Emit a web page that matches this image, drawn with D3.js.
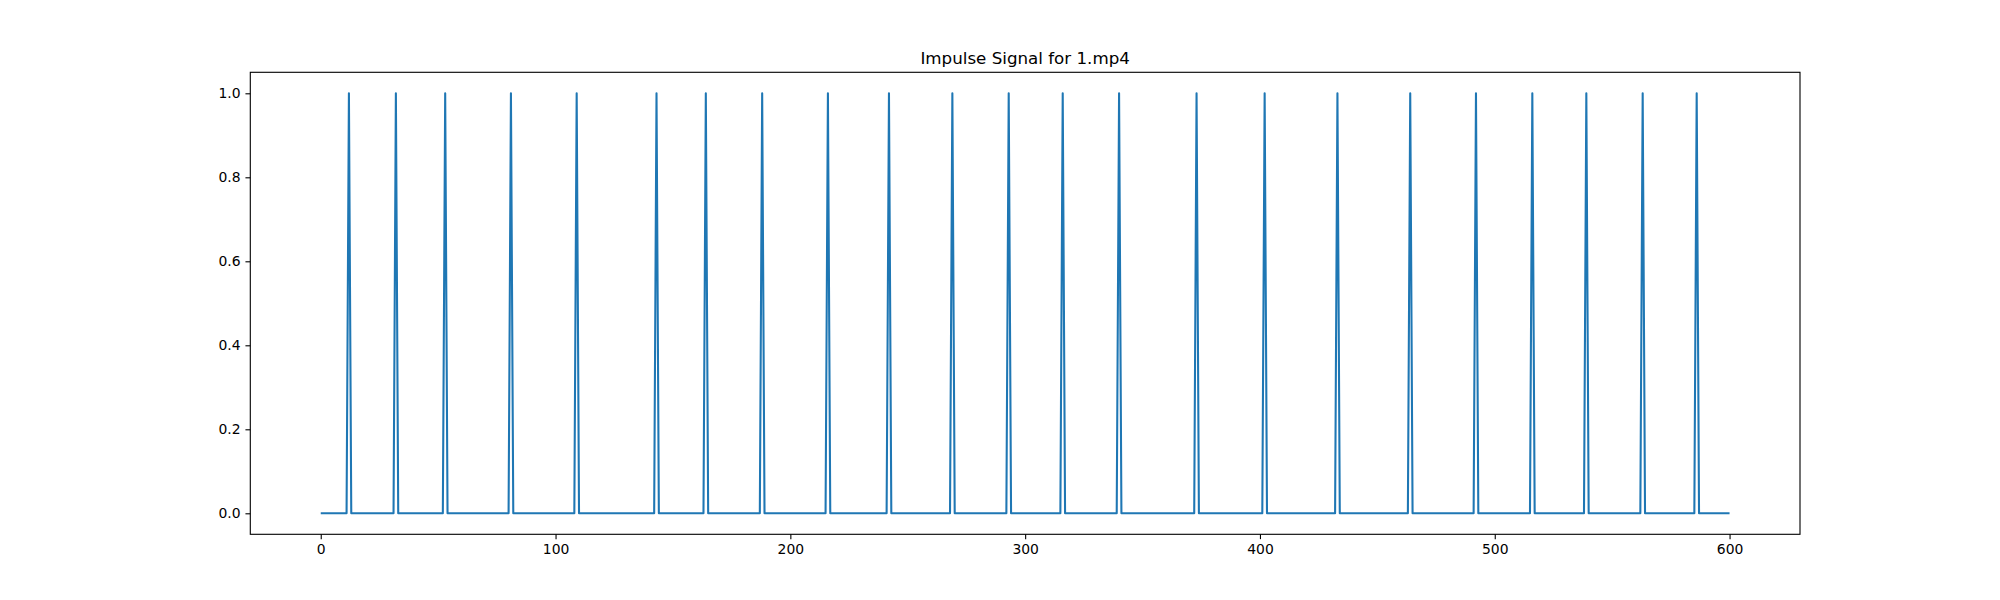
<!DOCTYPE html>
<html>
<head>
<meta charset="utf-8">
<script src="https://cdn.jsdelivr.net/npm/d3@7"></script>
<style>
body { margin: 0; background: #fff; }
svg text { font-family: "DejaVu Sans", sans-serif; }
</style>
</head>
<body>
<script>
"use strict";

// frames where an impulse fires (value 1), all other frames are 0
var peakFrames = [12, 32, 53, 81, 109, 143, 164, 188, 216, 242, 269, 293, 316, 340, 373, 402, 433, 464, 492, 516, 539, 563, 586];
var firstFrame = 0;
var lastFrame = 600;
var xTicks = [0, 100, 200, 300, 400, 500, 600];
var yTicks = [0.0, 0.2, 0.4, 0.6, 0.8, 1.0];
var titleText = "Impulse Signal for 1.mp4";

var W = 2000, H = 600;
var margin = {left: 250.3, right: 200, top: 72.3, bottom: 65.7};

// build series of frame values
var series = [];
for (var f = firstFrame; f <= lastFrame; f++) {
    series.push({frame: f, value: peakFrames.indexOf(f) >= 0 ? 1 : 0});
}

var svg = d3.select("body").append("svg").attr("width", W).attr("height", H);

var pad = (lastFrame - firstFrame) * 0.05;
var x = d3.scaleLinear().domain([firstFrame - pad, lastFrame + pad]).range([margin.left, W - margin.right]);
var y = d3.scaleLinear().domain([-0.05, 1.05]).range([H - margin.bottom, margin.top]);

var tickLen = 4.86;

var line = d3.line().x(function(d){ return x(d.frame); }).y(function(d){ return y(d.value); });

svg.append("path").datum(series)
    .attr("d", line)
    .attr("fill", "none")
    .attr("stroke", "#1f77b4")
    .attr("stroke-width", 2.08)
    .attr("stroke-linejoin", "round")
    .attr("stroke-linecap", "butt");

var xAxis = svg.append("g")
    .attr("transform", "translate(0," + (H - margin.bottom) + ")")
    .call(d3.axisBottom(x).tickValues(xTicks).tickFormat(d3.format("d")).tickSize(tickLen).tickPadding(4.86).tickSizeOuter(0));

var yAxis = svg.append("g")
    .attr("transform", "translate(" + margin.left + ",0)")
    .call(d3.axisLeft(y).tickValues(yTicks).tickFormat(d3.format(".1f")).tickSize(tickLen).tickPadding(4.86).tickSizeOuter(0));

[xAxis, yAxis].forEach(function(a){
    a.select(".domain").remove();
    a.selectAll(".tick line").attr("stroke", "#000").attr("stroke-width", 1.11);
    a.selectAll(".tick text").attr("fill", "#000").style("font-size", "13.9px").style("font-family", "'DejaVu Sans', sans-serif");
});

// frame around axes
svg.append("rect")
    .attr("x", margin.left).attr("y", margin.top)
    .attr("width", W - margin.right - margin.left)
    .attr("height", H - margin.bottom - margin.top)
    .attr("fill", "none").attr("stroke", "#000").attr("stroke-width", 1.11);

svg.append("text")
    .attr("x", (margin.left + W - margin.right) / 2)
    .attr("y", margin.top - 8.3)
    .attr("text-anchor", "middle")
    .style("font-size", "16.7px")
    .attr("fill", "#000")
    .text(titleText);
</script>
</body>
</html>
